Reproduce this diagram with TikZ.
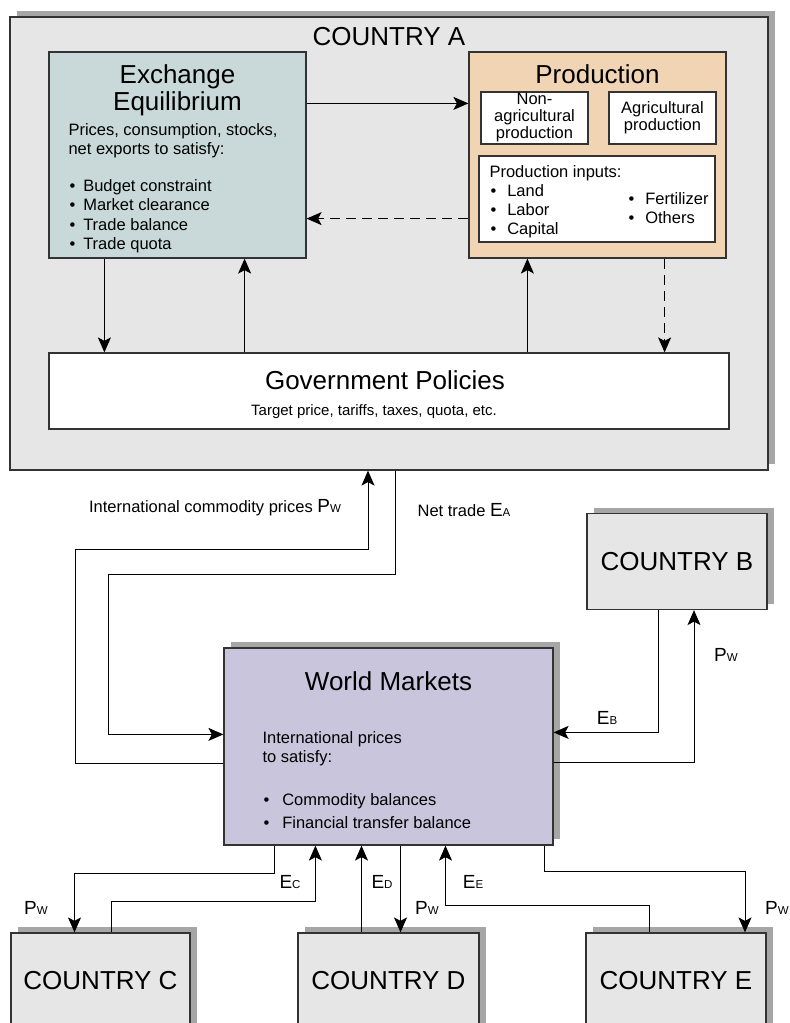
\documentclass[tikz,border=0pt]{standalone}
\usepackage{fontspec}
\setmainfont{Liberation Sans}
\usetikzlibrary{arrows.meta,shadows}

\definecolor{areagray}{HTML}{E6E6E6}
\definecolor{shadowgray}{HTML}{A6A6A6}
\definecolor{exchblue}{HTML}{C9D9D9}
\definecolor{prodtan}{HTML}{F0D4B4}
\definecolor{worldlilac}{HTML}{C9C5DC}
\definecolor{edgegray}{HTML}{333333}

\newcommand{\itembullet}[1][8pt]{\hspace*{1pt}\textbullet\hspace{#1}}
\newcommand{\flow}[2]{{\fontsize{19}{19}\selectfont #1}{\fontsize{11.5}{11.5}\selectfont #2}}

\begin{document}
\begin{tikzpicture}[x=1pt,y=-1pt,>={Stealth[length=15pt,width=13pt,inset=3.5pt]},line width=1pt]
    \tikzstyle{box}=[draw=edgegray, line width=1.2pt, inner sep=0pt]
    \tikzstyle{panel}=[box, general shadow={fill=shadowgray, shadow xshift=7pt, shadow yshift=6pt}]
    \tikzstyle{subbox}=[box, fill=white, align=center, font=\fontsize{16.5}{17}\selectfont]
    \tikzstyle{bigtxt}=[inner sep=0pt, font=\fontsize{26}{27}\selectfont]
    \tikzstyle{txt}=[inner sep=0pt, align=left, anchor=base west, font=\fontsize{16.5}{19.5}\selectfont]
    \tikzstyle{flowtxt}=[inner sep=0pt, font=\fontsize{16.5}{19}\selectfont]
    \tikzstyle{country}=[panel, fill=areagray, minimum height=96pt, font=\fontsize{26}{27}\selectfont]

    \useasboundingbox (0,0) rectangle (790,1023);

    % country A and what is inside it
    \node[panel, fill=areagray, minimum width=758pt, minimum height=453pt] (countryA) at (389,243.5) {};
    \node[bigtxt, anchor=base] (titleA) at (389,45) {COUNTRY A};

    \node[box, fill=exchblue, minimum width=257pt, minimum height=206pt] (exch) at (177.5,155) {};
    \node[bigtxt, align=center, anchor=base] (exchT) at (177.5,110) {Exchange\\Equilibrium};
    \node[txt] (exchB) at (68,249.5) {Prices, consumption, stocks,\\net exports to satisfy:\\[17pt]\itembullet Budget constraint\\\itembullet Market clearance\\\itembullet Trade balance\\\itembullet Trade quota};

    \node[box, fill=prodtan, minimum width=257pt, minimum height=206pt] (prod) at (597.5,155) {};
    \node[bigtxt, anchor=base] (prodT) at (597.5,83) {Production};
    \node[subbox, minimum width=107pt, minimum height=52pt] (nonag) at (534.5,118) {Non-\\agricultural\\production};
    \node[subbox, minimum width=107pt, minimum height=52pt] (agri) at (662.5,118) {Agricultural\\production};
    \node[subbox, minimum width=236pt, minimum height=86pt] (inputs) at (597,199) {};
    \node[txt, font=\fontsize{16.5}{19}\selectfont] (inputsL) at (489,234) {Production inputs:\\\itembullet[11pt]Land\\\itembullet[11pt]Labor\\\itembullet[11pt]Capital};
    \node[txt, font=\fontsize{16.5}{19}\selectfont] (inputsR) at (627,223) {\itembullet[11pt]Fertilizer\\\itembullet[11pt]Others};

    \node[box, fill=white, minimum width=680pt, minimum height=76pt] (gov) at (389,391) {};
    \node[bigtxt, anchor=base] (govT) at (385,389) {Government Policies};
    \node[flowtxt, anchor=base, font=\fontsize{15}{18}\selectfont] (govB) at (374,415) {Target price, tariffs, taxes, quota, etc.};

    \draw[->] ([yshift=-52pt]exch.north east) -- ([yshift=-52pt]prod.north west);
    \draw[->, dash pattern=on 10pt off 6pt] ([yshift=40pt]prod.south west) -- ([yshift=40pt]exch.south east);
    \draw[->] ([xshift=56pt]exch.south west) -- ([xshift=56pt]exch.south west |- gov.north);
    \draw[->] ([xshift=-62pt]exch.south east |- gov.north) -- ([xshift=-62pt]exch.south east);
    \draw[->] ([xshift=59pt]prod.south west |- gov.north) -- ([xshift=59pt]prod.south west);
    \draw[->, dash pattern=on 10pt off 6pt] ([xshift=-62pt]prod.south east) -- ([xshift=-62pt]prod.south east |- gov.north);

    % world markets
    \node[panel, fill=worldlilac, minimum width=329pt, minimum height=197pt] (world) at (388.5,746.5) {};
    \node[bigtxt, anchor=base] (worldT) at (388.5,690) {World Markets};
    \node[txt, font=\fontsize{16.5}{19}\selectfont] (worldB) at (262,828) {International prices\\to satisfy:\\[24pt]\itembullet[13pt]Commodity balances\\[4pt]\itembullet[13pt]Financial transfer balance};

    % the other countries
    \node[country, minimum width=180pt] (countryB) at (677,561.5) {COUNTRY B};
    \node[country, minimum width=179pt] (countryC) at (100.5,981) {COUNTRY C};
    \node[country, minimum width=181pt] (countryD) at (388.5,981) {COUNTRY D};
    \node[country, minimum width=180pt] (countryE) at (676,981) {COUNTRY E};

    % trade flows
    \draw[->] ([yshift=82pt]world.south west) -- ++(-148,0) -- ++(0,-214) -| ([xshift=-21pt]countryA.south);
    \draw[->] ([xshift=6pt]countryA.south) -- ++(0,104) -- ++(-287,0) |- ([yshift=-87pt]world.north west);
    \node[flowtxt] (pwA) at (215,508) {International commodity prices \flow{P}{W}};
    \node[flowtxt] (eA) at (464,510) {Net trade \flow{E}{A}};

    \draw[->] ([xshift=-19pt]countryB.south) |- ([yshift=-85pt]world.north east);
    \draw[->] ([yshift=-115pt]world.north east) -| ([xshift=17pt]countryB.south);
    \node[flowtxt] (eB) at (607,718) {\flow{E}{B}};
    \node[flowtxt] (pwB) at (726,655) {\flow{P}{W}};

    \draw[->] ([xshift=51pt]world.south west) -- ++(0,28) -| ([xshift=-26pt]countryC.north);
    \draw[->] ([xshift=11pt]countryC.north) -- ++(0,-31) -| ([xshift=92pt]world.south west);
    \draw[->] ([xshift=-27pt]countryD.north) -- ([xshift=-27pt]countryD.north |- world.south);
    \draw[->] ([xshift=12pt]world.south) -- ([xshift=12pt]world.south |- countryD.north);
    \draw[->] ([xshift=-27pt]countryE.north) -- ++(0,-27) -| ([xshift=57pt]world.south);
    \draw[->] ([xshift=-9pt]world.south east) -- ++(0,26) -| ([xshift=69pt]countryE.north);
    \node[flowtxt] (pwC) at (36,908) {\flow{P}{W}};
    \node[flowtxt] (eC) at (290,882) {\flow{E}{C}};
    \node[flowtxt] (eD) at (382,882) {\flow{E}{D}};
    \node[flowtxt] (pwD) at (427,908) {\flow{P}{W}};
    \node[flowtxt] (eE) at (473,882) {\flow{E}{E}};
    \node[flowtxt] (pwE) at (777,908) {\flow{P}{W}};
\end{tikzpicture}
\end{document}
